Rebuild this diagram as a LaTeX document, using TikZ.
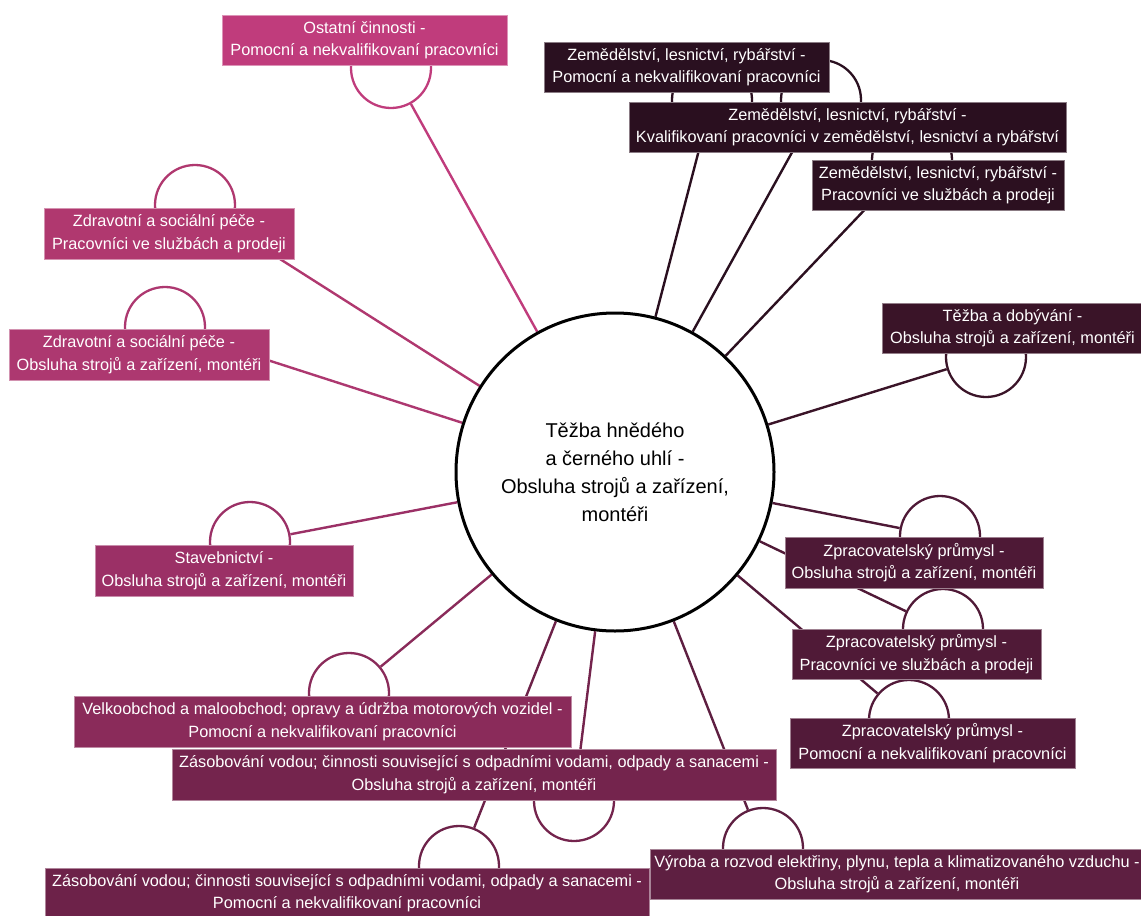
\documentclass[tikz,border=0pt]{standalone}
\usepackage{fontspec}
\setmainfont{Liberation Sans}
\usetikzlibrary{backgrounds}
\definecolor{k1}{HTML}{C03C7C}
\definecolor{k2}{HTML}{B0386F}
\definecolor{k3}{HTML}{AD3870}
\definecolor{k4}{HTML}{9B3066}
\definecolor{k5}{HTML}{8A2B5A}
\definecolor{k6}{HTML}{74244D}
\definecolor{k7}{HTML}{6D2249}
\definecolor{k8}{HTML}{5E1F41}
\definecolor{k9}{HTML}{521A39}
\definecolor{k10}{HTML}{501A37}
\definecolor{k11}{HTML}{4E1936}
\definecolor{k12}{HTML}{3A1428}
\definecolor{k13}{HTML}{2C1020}
\definecolor{k14}{HTML}{2A0F1F}
\definecolor{k15}{HTML}{2A1020}
\tikzset{
  ring/.style={circle, draw=#1, fill=white, line width=2.3pt, minimum size=80pt, inner sep=0pt},
  box/.style={rectangle, fill=#1, draw=#1!55!white, line width=0.6pt, text=white, align=center,
    inner sep=0pt, font=\fontsize{16.3}{22.5}\selectfont},
  link/.style={draw=#1, line width=2.4pt},
  hub/.style={circle, draw=black, fill=white, line width=3pt, minimum size=318pt, inner sep=0pt,
    align=center, font=\fontsize{20}{28}\selectfont}
}
\begin{document}
\begin{tikzpicture}[x=1pt,y=-1pt]
\useasboundingbox (0,0) rectangle (1141,916);
% small rings
\node[ring=k1]  (r1)  at (391,68) {};
\node[ring=k2]  (r2)  at (195,205) {};
\node[ring=k3]  (r3)  at (165,327) {};
\node[ring=k4]  (r4)  at (250,542) {};
\node[ring=k5]  (r5)  at (349,693) {};
\node[ring=k6]  (r6)  at (574,801) {};
\node[ring=k7]  (r7)  at (459,866) {};
\node[ring=k8]  (r8)  at (763,848) {};
\node[ring=k9]  (r9)  at (909,720) {};
\node[ring=k10] (r10) at (943,629) {};
\node[ring=k11] (r11) at (940,536) {};
\node[ring=k12] (r12) at (986,357) {};
\node[ring=k13] (r13) at (912,160) {};
\node[ring=k14] (r14) at (712,100) {};
\node[ring=k15] (r15) at (821,100) {};
% hub
\node[hub] (hub) at (615,472) {Těžba hnědého\\a černého uhlí -\\Obsluha strojů a zařízení,\\montéři};
% connectors
\begin{scope}[on background layer]
\draw[link=k1]  (hub) -- (r1);
\draw[link=k2]  (hub) -- (r2);
\draw[link=k3]  (hub) -- (r3);
\draw[link=k4]  (hub) -- (r4);
\draw[link=k5]  (hub) -- (r5);
\draw[link=k6]  (hub) -- (r6);
\draw[link=k7]  (hub) -- (r7);
\draw[link=k8]  (hub) -- (r8);
\draw[link=k9]  (hub) -- (r9);
\draw[link=k10] (hub) -- (r10);
\draw[link=k11] (hub) -- (r11);
\draw[link=k12] (hub) -- (r12);
\draw[link=k13] (hub) -- (r13);
\draw[link=k14] (hub) -- (r14);
\draw[link=k15] (hub) -- (r15);
\end{scope}
% boxes
\node[box=k1, minimum width=285pt, minimum height=50pt] (b1) at (364.5,40) {Ostatní činnosti -\\Pomocní a nekvalifikovaní pracovníci};
\node[box=k2, minimum width=250pt, minimum height=51pt] (b2) at (169,233.5) {Zdravotní a sociální péče -\\Pracovníci ve službách a prodeji};
\node[box=k3, minimum width=260pt, minimum height=51pt] (b3) at (139,354.5) {Zdravotní a sociální péče -\\Obsluha strojů a zařízení, montéři};
\node[box=k4, minimum width=258pt, minimum height=51pt] (b4) at (224,570.5) {Stavebnictví -\\Obsluha strojů a zařízení, montéři};
\node[box=k5, minimum width=497pt, minimum height=51pt] (b5) at (322.5,721.5) {Velkoobchod a maloobchod; opravy a údržba motorových vozidel -\\Pomocní a nekvalifikovaní pracovníci};
\node[box=k6, minimum width=604pt, minimum height=51pt] (b6) at (474,774.5) {Zásobování vodou; činnosti související s odpadními vodami, odpady a sanacemi -\\Obsluha strojů a zařízení, montéři};
\node[box=k7, minimum width=604pt, minimum height=50pt] (b7) at (347,893) {Zásobování vodou; činnosti související s odpadními vodami, odpady a sanacemi -\\Pomocní a nekvalifikovaní pracovníci};
\node[box=k8, minimum width=494pt, minimum height=50pt] (b8) at (897,874) {Výroba a rozvod elektřiny, plynu, tepla a klimatizovaného vzduchu -\\Obsluha strojů a zařízení, montéři};
\node[box=k9, minimum width=285pt, minimum height=50pt] (b9) at (932.5,743) {Zpracovatelský průmysl -\\Pomocní a nekvalifikovaní pracovníci};
\node[box=k10, minimum width=249pt, minimum height=50pt] (b10) at (916.5,654) {Zpracovatelský průmysl -\\Pracovníci ve službách a prodeji};
\node[box=k11, minimum width=258pt, minimum height=51pt] (b11) at (914,562.5) {Zpracovatelský průmysl -\\Obsluha strojů a zařízení, montéři};
\node[box=k12, minimum width=261pt, minimum height=50pt] (b12) at (1012.5,328) {Těžba a dobývání -\\Obsluha strojů a zařízení, montéři};
\node[box=k13, minimum width=252pt, minimum height=50pt] (b13) at (938,185) {Zemědělství, lesnictví, rybářství -\\Pracovníci ve službách a prodeji};
\node[box=k14, minimum width=437pt, minimum height=50pt] (b14) at (847.5,127) {Zemědělství, lesnictví, rybářství -\\Kvalifikovaní pracovníci v zemědělství, lesnictví a rybářství};
\node[box=k15, minimum width=285pt, minimum height=50pt] (b15) at (686.5,67) {Zemědělství, lesnictví, rybářství -\\Pomocní a nekvalifikovaní pracovníci};
\end{tikzpicture}
\end{document}
